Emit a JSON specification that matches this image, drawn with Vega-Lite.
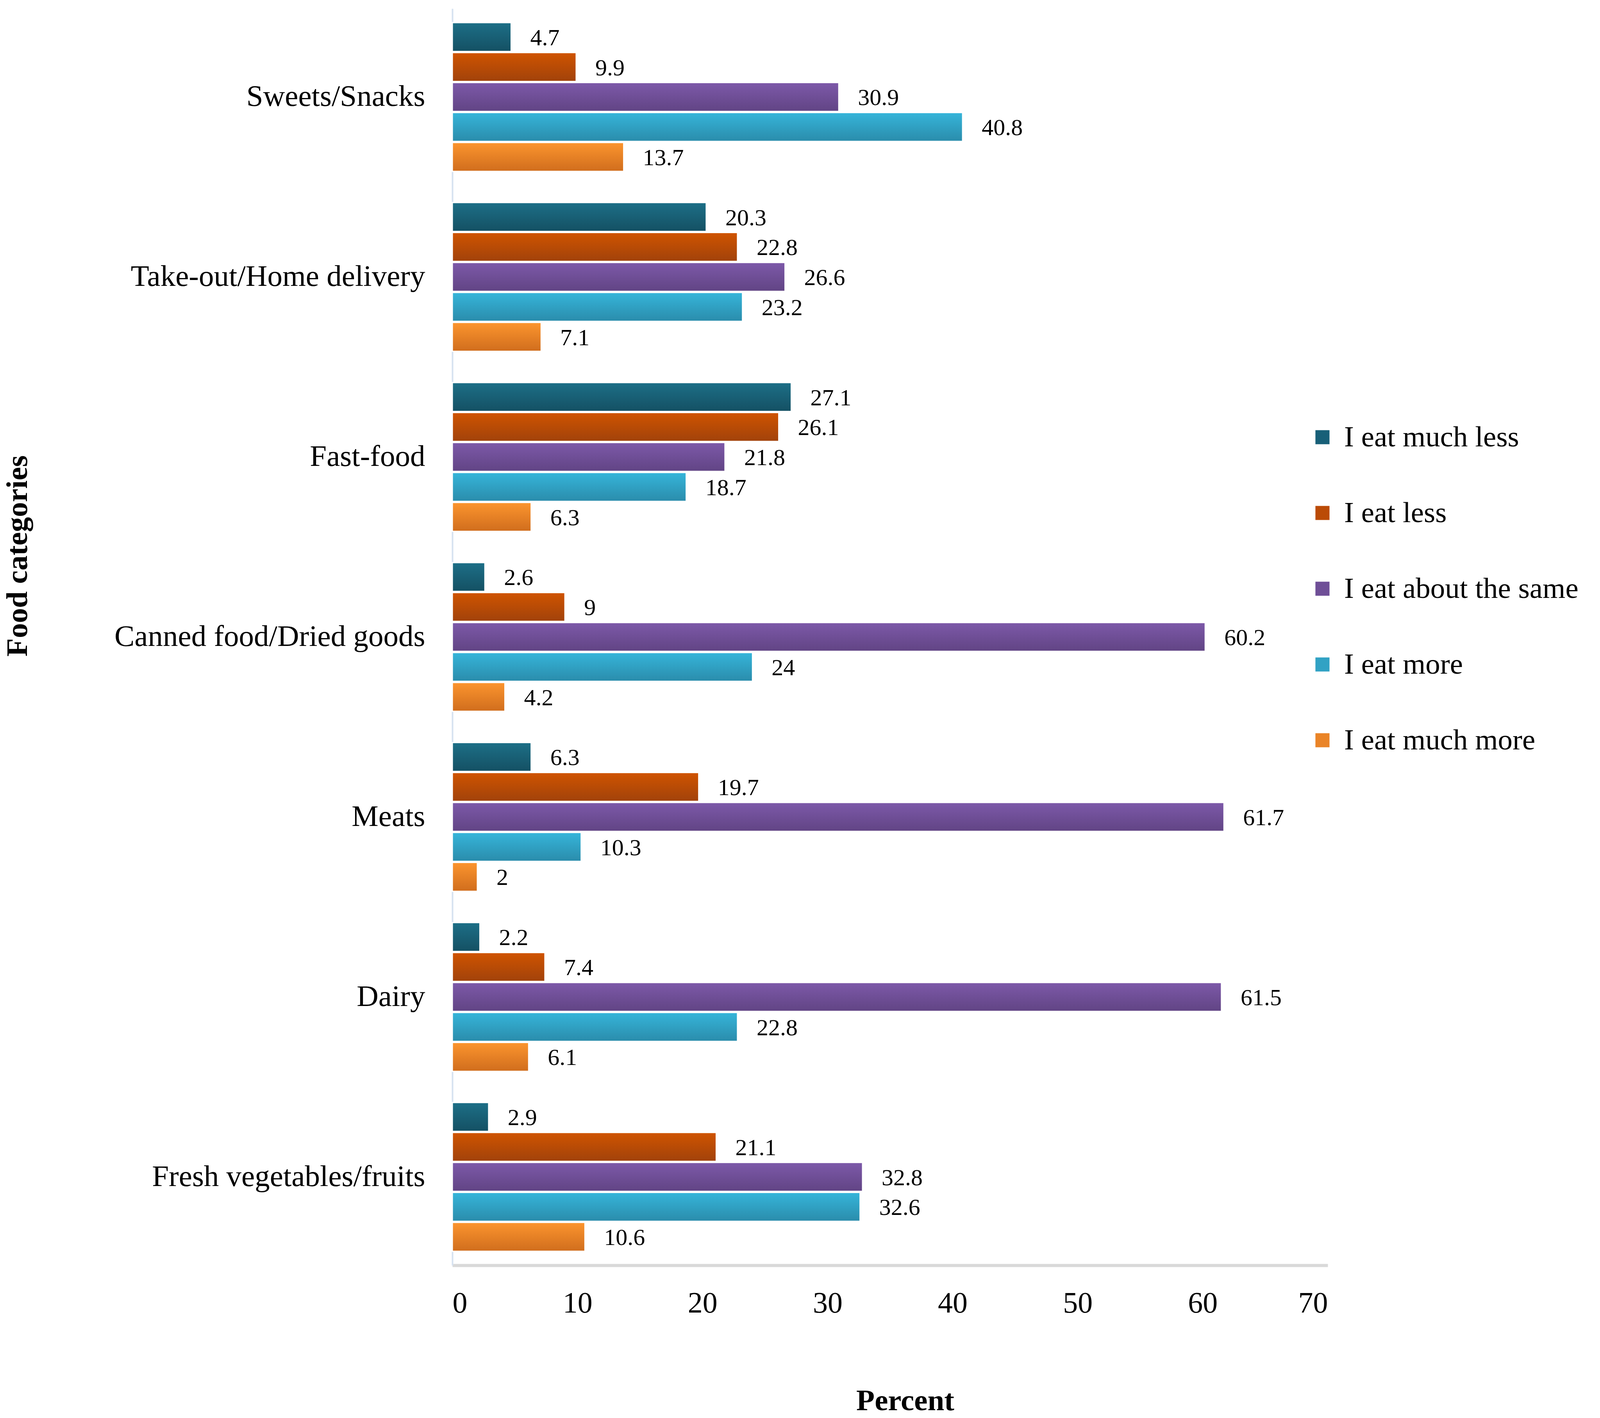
{
  "$schema": "https://vega.github.io/schema/vega-lite/v6.json",
  "width": 2241,
  "height": 3218,
  "autosize": {"type": "none"},
  "padding": {"left": 1158, "top": 22, "right": 697, "bottom": 391},
  "background": "white",
  "data": {
    "values": [
      {"category": "Sweets/Snacks", "response": "I eat much less", "pct": 4.7},
      {"category": "Sweets/Snacks", "response": "I eat less", "pct": 9.9},
      {"category": "Sweets/Snacks", "response": "I eat about the same", "pct": 30.9},
      {"category": "Sweets/Snacks", "response": "I eat more", "pct": 40.8},
      {"category": "Sweets/Snacks", "response": "I eat much more", "pct": 13.7},
      {"category": "Take-out/Home delivery", "response": "I eat much less", "pct": 20.3},
      {"category": "Take-out/Home delivery", "response": "I eat less", "pct": 22.8},
      {"category": "Take-out/Home delivery", "response": "I eat about the same", "pct": 26.6},
      {"category": "Take-out/Home delivery", "response": "I eat more", "pct": 23.2},
      {"category": "Take-out/Home delivery", "response": "I eat much more", "pct": 7.1},
      {"category": "Fast-food", "response": "I eat much less", "pct": 27.1},
      {"category": "Fast-food", "response": "I eat less", "pct": 26.1},
      {"category": "Fast-food", "response": "I eat about the same", "pct": 21.8},
      {"category": "Fast-food", "response": "I eat more", "pct": 18.7},
      {"category": "Fast-food", "response": "I eat much more", "pct": 6.3},
      {"category": "Canned food/Dried goods", "response": "I eat much less", "pct": 2.6},
      {"category": "Canned food/Dried goods", "response": "I eat less", "pct": 9},
      {"category": "Canned food/Dried goods", "response": "I eat about the same", "pct": 60.2},
      {"category": "Canned food/Dried goods", "response": "I eat more", "pct": 24},
      {"category": "Canned food/Dried goods", "response": "I eat much more", "pct": 4.2},
      {"category": "Meats", "response": "I eat much less", "pct": 6.3},
      {"category": "Meats", "response": "I eat less", "pct": 19.7},
      {"category": "Meats", "response": "I eat about the same", "pct": 61.7},
      {"category": "Meats", "response": "I eat more", "pct": 10.3},
      {"category": "Meats", "response": "I eat much more", "pct": 2},
      {"category": "Dairy", "response": "I eat much less", "pct": 2.2},
      {"category": "Dairy", "response": "I eat less", "pct": 7.4},
      {"category": "Dairy", "response": "I eat about the same", "pct": 61.5},
      {"category": "Dairy", "response": "I eat more", "pct": 22.8},
      {"category": "Dairy", "response": "I eat much more", "pct": 6.1},
      {"category": "Fresh vegetables/fruits", "response": "I eat much less", "pct": 2.9},
      {"category": "Fresh vegetables/fruits", "response": "I eat less", "pct": 21.1},
      {"category": "Fresh vegetables/fruits", "response": "I eat about the same", "pct": 32.8},
      {"category": "Fresh vegetables/fruits", "response": "I eat more", "pct": 32.6},
      {"category": "Fresh vegetables/fruits", "response": "I eat much more", "pct": 10.6}
    ]
  },
  "encoding": {
    "y": {
      "field": "category", "type": "nominal", "sort": null,
      "scale": {"paddingInner": 0.174, "paddingOuter": 0.078},
      "axis": {
        "title": "Food categories", "titleFont": "Liberation Serif", "titleFontSize": 77,
        "titleFontWeight": "bold", "titleColor": "black", "titleAngle": -90,
        "titleX": -1113, "titleY": 1401, "titleAlign": "center", "titleBaseline": "middle",
        "labelFont": "Liberation Serif", "labelFontSize": 77, "labelColor": "black",
        "labelPadding": 70, "labelLimit": 1200, "ticks": false,
        "domainColor": "#d6e2f0", "domainWidth": 4
      }
    },
    "yOffset": {
      "field": "response", "type": "nominal", "sort": null,
      "scale": {"paddingInner": 0.04}
    },
    "x": {
      "field": "pct", "type": "quantitative",
      "scale": {"domain": [0, 70], "nice": false},
      "axis": {
        "title": "Percent", "titleFont": "Liberation Serif", "titleFontSize": 77,
        "titleFontWeight": "bold", "titleColor": "black",
        "titleX": 1159, "titleY": 347, "titleAlign": "center", "titleBaseline": "middle",
        "values": [0, 10, 20, 30, 40, 50, 60, 70],
        "labelFont": "Liberation Serif", "labelFontSize": 76, "labelColor": "black",
        "labelPadding": 60, "ticks": false, "grid": false,
        "domainColor": "#d9d9d9", "domainWidth": 8
      }
    }
  },
  "layer": [
    {
      "mark": {"type": "bar", "stroke": "white", "strokeWidth": 3},
      "encoding": {
        "color": {
          "field": "response", "type": "nominal", "sort": null,
          "scale": {
            "domain": ["I eat much less", "I eat less", "I eat about the same", "I eat more", "I eat much more"],
            "range": ["#186078", "#bb4b06", "#6f4f97", "#31a2c4", "#ea8427"]
          },
          "legend": {
            "title": null, "orient": "none", "legendX": 2190, "legendY": 1060,
            "padding": 0, "symbolType": "square", "symbolSize": 1300, "symbolStrokeWidth": 0,
            "labelFont": "Liberation Serif", "labelFontSize": 75, "labelColor": "black",
            "labelOffset": 18, "rowPadding": 118, "labelLimit": 1000
          }
        }
      }
    },
    {
      "transform": [{"filter": "datum.response === 'I eat much less'"}],
      "mark": {"type": "bar", "stroke": "white", "strokeWidth": 3,
        "fill": {"gradient": "linear", "x1": 0, "y1": 0, "x2": 0, "y2": 1,
          "stops": [{"offset": 0, "color": "#1d6f87"}, {"offset": 1, "color": "#145063"}]}}
    },
    {
      "transform": [{"filter": "datum.response === 'I eat less'"}],
      "mark": {"type": "bar", "stroke": "white", "strokeWidth": 3,
        "fill": {"gradient": "linear", "x1": 0, "y1": 0, "x2": 0, "y2": 1,
          "stops": [{"offset": 0, "color": "#d05400"}, {"offset": 1, "color": "#a1420b"}]}}
    },
    {
      "transform": [{"filter": "datum.response === 'I eat about the same'"}],
      "mark": {"type": "bar", "stroke": "white", "strokeWidth": 3,
        "fill": {"gradient": "linear", "x1": 0, "y1": 0, "x2": 0, "y2": 1,
          "stops": [{"offset": 0, "color": "#7d59a9"}, {"offset": 1, "color": "#614484"}]}}
    },
    {
      "transform": [{"filter": "datum.response === 'I eat more'"}],
      "mark": {"type": "bar", "stroke": "white", "strokeWidth": 3,
        "fill": {"gradient": "linear", "x1": 0, "y1": 0, "x2": 0, "y2": 1,
          "stops": [{"offset": 0, "color": "#36b5da"}, {"offset": 1, "color": "#2a8cab"}]}}
    },
    {
      "transform": [{"filter": "datum.response === 'I eat much more'"}],
      "mark": {"type": "bar", "stroke": "white", "strokeWidth": 3,
        "fill": {"gradient": "linear", "x1": 0, "y1": 0, "x2": 0, "y2": 1,
          "stops": [{"offset": 0, "color": "#fc952e"}, {"offset": 1, "color": "#d06d1d"}]}}
    },
    {
      "mark": {"type": "text", "align": "left", "baseline": "middle", "dx": 49, "dy": 3,
        "font": "Liberation Serif", "fontSize": 60, "color": "black"},
      "encoding": {
        "text": {"field": "pct", "type": "nominal"}
      }
    }
  ],
  "config": {"view": {"stroke": null}}
}
